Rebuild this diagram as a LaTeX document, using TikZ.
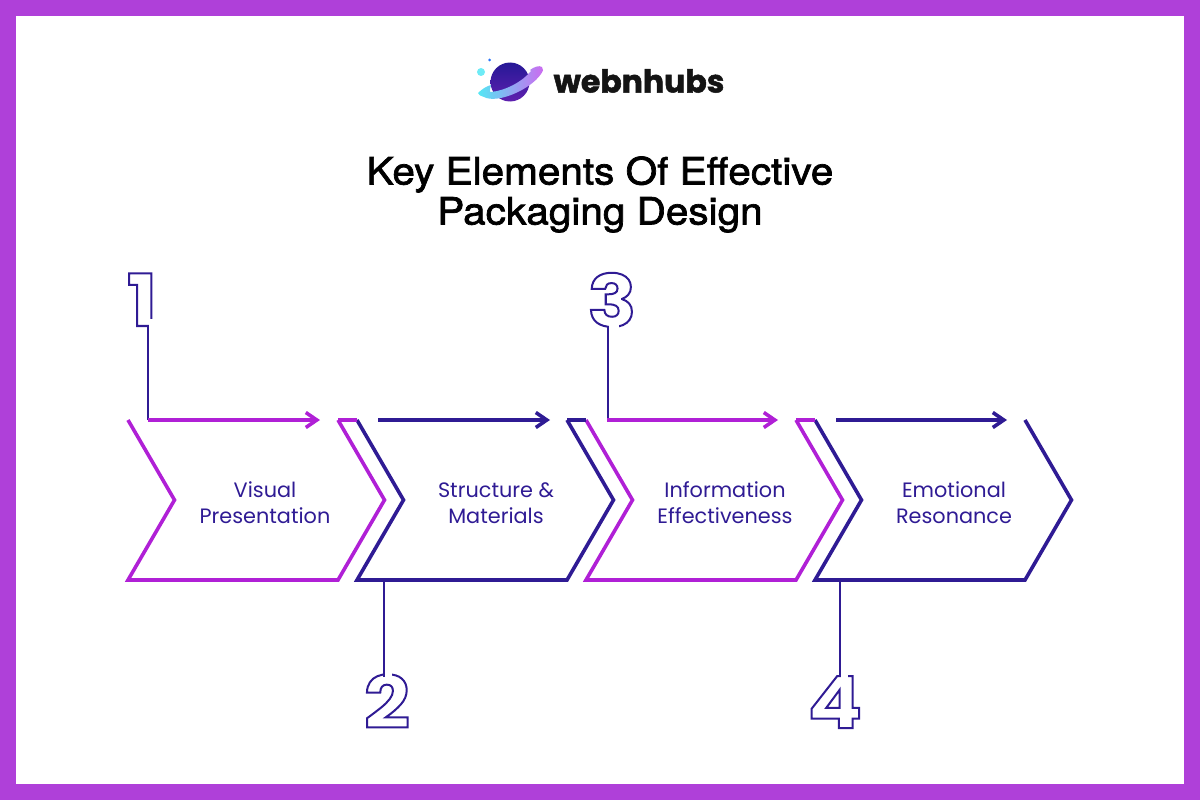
\documentclass[tikz,border=0pt]{standalone}
\usepackage{fontspec}
\setmainfont{Poppins}
\newfontfamily\titlefont[FakeStretch=1.08]{TeX Gyre Heros}
\newfontfamily\numfont[FakeStretch=1.12]{Poppins}
\usepackage{xcolor}
\usetikzlibrary{arrows.meta, calc}
\definecolor{frameviolet}{RGB}{175,64,217}
\definecolor{chevmagenta}{RGB}{176,32,214}
\definecolor{chevindigo}{RGB}{47,27,148}
\definecolor{planetblue}{RGB}{38,24,150}
\definecolor{planetpurple}{RGB}{95,32,175}
\definecolor{ringcyan}{RGB}{84,232,244}
\definecolor{ringlilac}{RGB}{205,105,240}
\newcommand{\outlined}[2]{\special{pdf:code 1 Tr #1 w}#2\special{pdf:code 0 Tr 0 w}}
\newcommand{\thickened}[2]{\special{pdf:code 2 Tr #1 w}#2\special{pdf:code 0 Tr 0 w}}
\tikzset{
    chevline/.style={line width=3.6pt, line join=miter},
    leader/.style={line width=2pt, chevindigo},
    pointer/.style={line width=3.6pt, -{Straight Barb[length=11pt, width=15pt, line width=3.6pt]}},
    numeral/.style={font=\numfont\fontsize{72}{72}\selectfont\bfseries, chevindigo, inner sep=0pt, outer sep=0pt},
    steplabel/.style={font=\fontsize{20.8}{26}\selectfont, chevindigo, align=center, inner sep=0pt},
}
\begin{document}
\begin{tikzpicture}[x=1pt, y=-1pt]
    \useasboundingbox (0,0) rectangle (1200,800);
    % Frame
    \draw[line width=16pt, frameviolet] (8,8) rectangle (1192,792);

    % Logo
    \fill[ringcyan!85!white] (481,72) circle (4);
    \fill[ringcyan!50!blue] (489.5,60) circle (1.5);
    \shade[top color=planetblue, bottom color=planetpurple] (510,82) circle (19.5);
    \shade[left color=ringcyan, middle color=ringcyan!30!ringlilac, right color=ringlilac]
        (478,93) .. controls (482,89) and (487,86) .. (491,85)
        .. controls (490,88) and (490,90) .. (490,92)
        .. controls (505,91) and (522,82) .. (531,71)
        -- (530,70) .. controls (534,67) and (539,65) .. (542,67)
        .. controls (544,69) and (543,71) .. (541,74)
        .. controls (530,90) and (497,104) .. (484,97)
        .. controls (481,96) and (478,95) .. (478,93) -- cycle;
    \node[font=\fontsize{31.5}{31.5}\selectfont\bfseries, text=black!92, inner sep=0pt] (brand) at (639,81)
        {\thickened{0.5}{webnhubs}};

    % Title
    \node[font=\titlefont\fontsize{37.5}{40}\selectfont, align=center, inner sep=0pt] (title) at (600,194.5)
        {\thickened{0.7}{Key Elements Of Effective}\\\thickened{0.7}{Packaging Design}};

    % Chevrons
    \foreach \o/\c in {0/chevmagenta, 229/chevindigo, 458/chevmagenta, 687/chevindigo} {
        \draw[chevline, \c] (128+\o,420) -- (174.5+\o,500) -- (128+\o,580) -- (338+\o,580)
            -- (384.5+\o,500) -- (338+\o,420);
    }
    \foreach \o/\c in {0/chevmagenta, 229/chevindigo, 458/chevmagenta} {
        \draw[chevline, \c] (338+\o,420) -- (357+\o,420);
    }

    % Labels
    \node[steplabel] (lab1) at (265,503) {Visual\\Presentation};
    \node[steplabel] (lab2) at (496,503) {Structure \&\\Materials};
    \node[steplabel] (lab3) at (725,503) {Information\\Effectiveness};
    \node[steplabel] (lab4) at (954,503) {Emotional\\Resonance};

    % Numerals
    \node[numeral, anchor=south] (num1) at (142,326) {\outlined{2}{1}};
    \node[numeral, anchor=south] (num2) at (387,728) {\outlined{2}{2}};
    \node[numeral, anchor=south] (num3) at (612,327) {\outlined{2}{3}};
    \node[numeral, anchor=south] (num4) at (835,728) {\outlined{2}{4}};

    % Gaps in the numerals
    \fill[white] (149,319) rectangle (160,330);
    \fill[white] (385,670) rectangle (392,683);
    \fill[white] (609,321) rectangle (619,331);
    \fill[white] (841,670) rectangle (848,682);

    % Leaders and pointers
    \coordinate (foot1) at (148,420);
    \coordinate (foot2) at (384,580);
    \coordinate (foot3) at (608,420);
    \coordinate (foot4) at (840,580);
    \coordinate (head1) at (148,326);
    \coordinate (head2) at (384,677);
    \coordinate (head3) at (608,327);
    \coordinate (head4) at (840,677);
    \foreach \i in {1,...,4} {
        \draw[leader] (foot\i) -- (head\i);
    }
    \foreach \i/\c/\xa/\xb in {1/chevmagenta/148/320, 2/chevindigo/378/550, 3/chevmagenta/607/778, 4/chevindigo/836/1007} {
        \coordinate (ptr\i a) at (\xa,420);
        \coordinate (ptr\i b) at (\xb,420);
        \draw[pointer, \c] (ptr\i a) -- (ptr\i b);
    }
\end{tikzpicture}
\end{document}
